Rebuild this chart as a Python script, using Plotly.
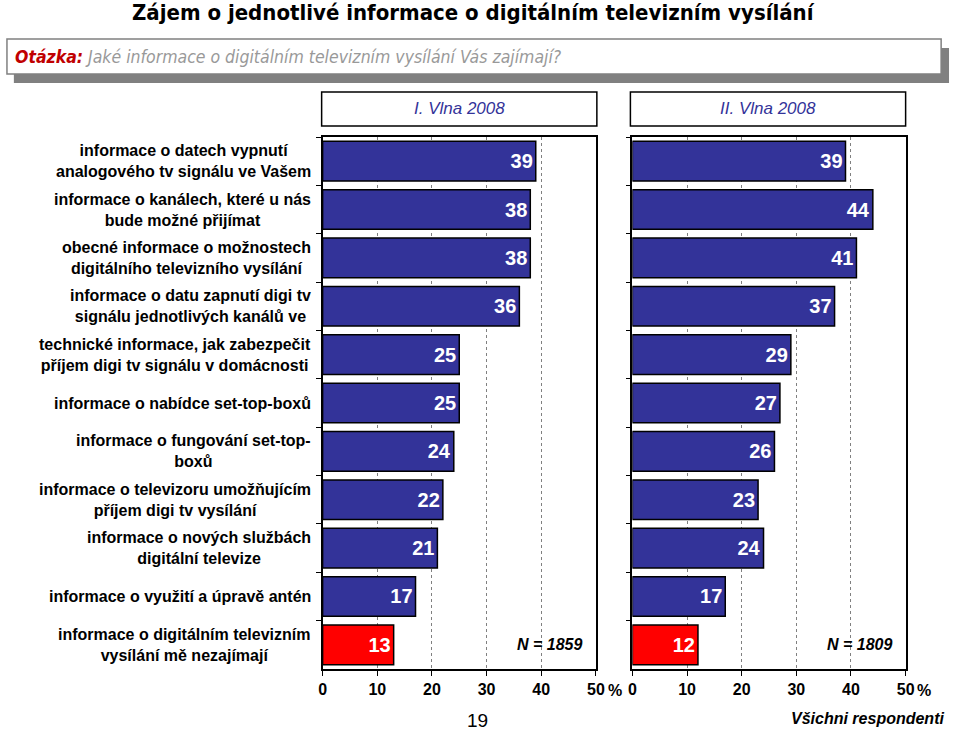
import plotly.graph_objects as go

W, H = 960, 731

categories = [
    "informace o datech vypnutí<br>analogového tv signálu ve Vašem",
    "informace o kanálech, které u nás<br>bude možné přijímat",
    "obecné informace o možnostech<br>digitálního televizního vysílání",
    "informace o datu zapnutí digi tv<br>signálu jednotlivých kanálů ve",
    "technické informace, jak zabezpečit<br>příjem digi tv signálu v domácnosti",
    "informace o nabídce set-top-boxů",
    "informace o fungování set-top-<br>boxů",
    "informace o televizoru umožňujícím<br>příjem digi tv vysílání",
    "informace o nových službách<br>digitální televize",
    "informace o využití a úpravě antén",
    "informace o digitálním televizním<br>vysílání mě nezajímají",
]
wave1 = [39, 38, 38, 36, 25, 25, 24, 22, 21, 17, 13]
wave2 = [39, 44, 41, 37, 29, 27, 26, 23, 24, 17, 12]
panel_titles = ["I. Vlna 2008", "II. Vlna 2008"]
n_labels = ["N = 1859", "N = 1809"]
tick_vals = [0, 10, 20, 30, 40, 50]
tick_text = ["0", "10", "20", "30", "40", "50"]

BLUE = "#333399"
RED = "#FF0000"
colors = [BLUE] * (len(categories) - 1) + [RED]

SANS = "Liberation Sans, Arial, sans-serif"
NARROW = "Liberation Sans Narrow, Arial Narrow, DejaVu Sans Condensed, sans-serif"


def px(x):
    return x / W


def py(y):
    return 1 - y / H


fig = go.Figure()
for i, vals in enumerate([wave1, wave2]):
    fig.add_trace(go.Bar(
        x=vals, y=categories, orientation="h",
        xaxis="x" if i == 0 else "x2", yaxis="y" if i == 0 else "y2",
        marker=dict(color=colors, line=dict(color="black", width=1.5)),
        text=[str(v) for v in vals], textposition="inside", insidetextanchor="end",
        textfont=dict(color="white", size=20, family=SANS, weight="bold"),
        cliponaxis=False, showlegend=False, hoverinfo="skip",
    ))

ydom = [py(669), py(137)]
xdom1 = [px(323), px(600)]
xdom2 = [px(637), px(914)]

xaxis_common = dict(
    range=[0, 50], tickvals=tick_vals, ticktext=tick_text,
    showgrid=True, gridcolor="#808080", griddash="dot", gridwidth=1,
    showline=True, linecolor="black", linewidth=1.5, mirror=True,
    ticks="outside", ticklen=5, tickcolor="black",
    tickfont=dict(size=16, family=SANS, color="black", weight="bold"),
    zeroline=False, fixedrange=True,
)
yaxis_common = dict(
    type="category", categoryorder="array", categoryarray=categories,
    range=[len(categories) - 0.5, -0.5],
    showticklabels=False, showgrid=False,
    showline=True, linecolor="black", linewidth=1.5, mirror=True,
    ticks="outside", ticklen=5, tickcolor="black", tickson="boundaries",
    zeroline=False, fixedrange=True, domain=ydom,
)

fig.update_layout(
    width=W, height=H,
    margin=dict(l=0, r=0, t=0, b=0),
    paper_bgcolor="white", plot_bgcolor="white",
    bargap=0.18,
    xaxis=dict(domain=xdom1, anchor="y", **xaxis_common),
    xaxis2=dict(domain=xdom2, anchor="y2", **xaxis_common),
    yaxis=dict(anchor="x", **yaxis_common),
    yaxis2=dict(anchor="x2", **yaxis_common),
)

shapes = []
annotations = []

# title
annotations.append(dict(
    xref="paper", yref="paper", x=px(476), y=py(13), xanchor="center", yanchor="middle",
    text="<b>Zájem o jednotlivé informace o digitálním televizním vysílání</b>",
    showarrow=False, font=dict(size=22, family=NARROW, color="black"),
))
# question box with shadow
shapes.append(dict(type="rect", xref="paper", yref="paper",
                   x0=px(10), x1=px(958), y0=py(83), y1=py(48),
                   fillcolor="#808080", line=dict(width=0), layer="below"))
shapes.append(dict(type="rect", xref="paper", yref="paper",
                   x0=px(3), x1=px(950), y0=py(74), y1=py(39),
                   fillcolor="white", line=dict(color="#808080", width=1.5), layer="below"))
annotations.append(dict(
    xref="paper", yref="paper", x=px(9), y=py(57), xanchor="left", yanchor="middle",
    text="<b><i><span style='color:#C00000'>Otázka:</span></i></b>"
         "<i><span style='color:#999999'> Jaké informace o digitálním televizním vysílání Vás zajímají?</span></i>",
    showarrow=False, font=dict(size=17.5, family=NARROW),
))

# panel headers
for (x0, x1), title in zip([(322, 601), (635, 914)], panel_titles):
    shapes.append(dict(type="rect", xref="paper", yref="paper",
                       x0=px(x0), x1=px(x1), y0=py(126), y1=py(92),
                       fillcolor="white", line=dict(color="black", width=1.5)))
    annotations.append(dict(
        xref="paper", yref="paper", x=px((x0 + x1) / 2), y=py(109),
        xanchor="center", yanchor="middle", text="<i>" + title + "</i>",
        showarrow=False, font=dict(size=17, family=SANS, color=BLUE),
    ))

# category labels
for c in categories:
    annotations.append(dict(
        xref="paper", yref="y", x=px(313), y=c, xanchor="right", yanchor="middle",
        text="<b>" + c + "</b>", align="center", showarrow=False,
        font=dict(size=16, family=SANS, color="black"),
    ))

# N labels
for xr, lab in zip(["x", "x2"], n_labels):
    annotations.append(dict(
        xref=xr, yref="y", x=41.5, y=categories[-1], xanchor="center", yanchor="middle",
        text="<b><i>" + lab + "</i></b>", showarrow=False,
        font=dict(size=16, family=SANS, color="black"),
    ))

# % signs after 50
for xp in [619, 933]:
    annotations.append(dict(
        xref="paper", yref="paper", x=px(xp), y=py(690), xanchor="center", yanchor="middle",
        text="<b>%</b>", showarrow=False, font=dict(size=16, family=SANS, color="black"),
    ))

# page number and footer
annotations.append(dict(
    xref="paper", yref="paper", x=px(480), y=py(720), xanchor="center", yanchor="middle",
    text="19", showarrow=False, font=dict(size=19, family=SANS, color="black"),
))
annotations.append(dict(
    xref="paper", yref="paper", x=px(955), y=py(718), xanchor="right", yanchor="middle",
    text="<b><i>Všichni respondenti</i></b>", showarrow=False,
    font=dict(size=16, family=SANS, color="black"),
))

fig.update_layout(shapes=shapes, annotations=annotations)
fig.write_html(
    "out.html",
    config={"displayModeBar": False},
    post_script="document.body.style.margin='0px';document.body.style.overflow='hidden';",
)
